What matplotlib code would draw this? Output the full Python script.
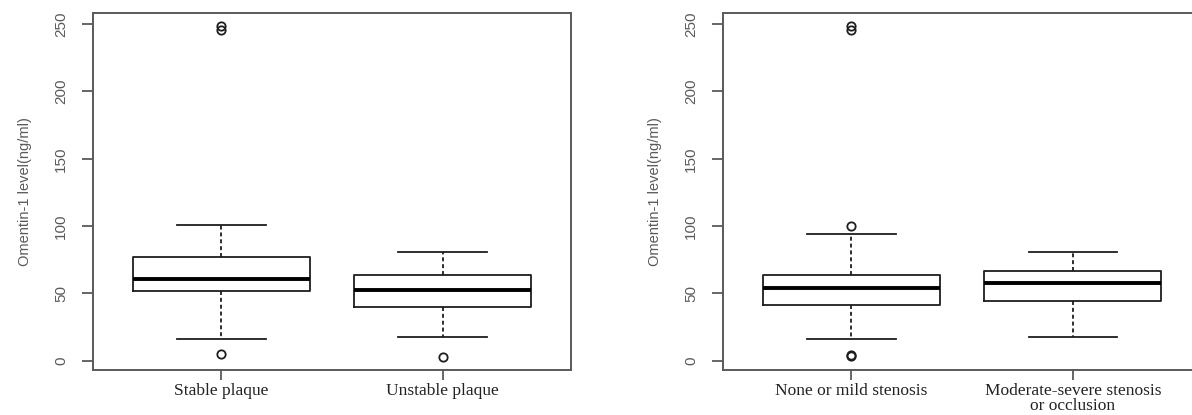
import matplotlib
matplotlib.use("Agg")
import matplotlib.pyplot as plt

# --- data ---
plaque_groups = ["Stable plaque", "Unstable plaque"]
plaque_whislo = [16, 18]
plaque_q1 = [52, 40]
plaque_med = [61, 52.5]
plaque_q3 = [77, 63.5]
plaque_whishi = [101, 80.5]
plaque_fliers = [[5, 245.5, 248.5], [3]]

stenosis_groups = ["None or mild stenosis", "Moderate-severe stenosis\nor occlusion"]
stenosis_whislo = [16.5, 18]
stenosis_q1 = [41.5, 44.5]
stenosis_med = [54, 57.5]
stenosis_q3 = [64, 66.5]
stenosis_whishi = [94.5, 80.5]
stenosis_fliers = [[3.5, 4.5, 100, 245.5, 248.5], []]

y_label = "Omentin-1 level(ng/ml)"
y_ticks = [0, 50, 100, 150, 200, 250]

AXIS_GREY = "#5a5a5a"
BOX_COLOR = "#1e1e1e"


def make_stats(labels, lo, q1, med, q3, hi, fliers):
    stats = []
    for i, lab in enumerate(labels):
        stats.append(dict(label=lab, whislo=lo[i], q1=q1[i], med=med[i],
                          q3=q3[i], whishi=hi[i], fliers=fliers[i]))
    return stats


def draw_panel(ax, stats):
    ax.bxp(stats, positions=[1, 2], widths=0.8, showfliers=True,
           boxprops=dict(color=BOX_COLOR, linewidth=1.3),
           medianprops=dict(color="black", linewidth=2.8, solid_capstyle="butt"),
           whiskerprops=dict(color=BOX_COLOR, linewidth=1.3, linestyle=(0, (2.2, 1.6))),
           capprops=dict(color=BOX_COLOR, linewidth=1.3),
           capwidths=0.4,
           flierprops=dict(marker="o", markerfacecolor="none",
                           markeredgecolor=BOX_COLOR, markersize=6,
                           markeredgewidth=1.3))
    ax.set_xlim(0.42, 2.58)
    ax.set_ylim(-6.8, 258.2)
    ax.set_yticks(y_ticks)
    ax.set_yticklabels([str(t) for t in y_ticks], rotation=90, va="center",
                       fontsize=11, color=AXIS_GREY, family="Liberation Sans")
    ax.set_xticks([1, 2])
    ax.set_xticklabels([s["label"] for s in stats], fontsize=12.5,
                       family="Liberation Serif", color="#222222",
                       linespacing=0.95)
    ax.tick_params(axis="y", length=8, width=1.3, color=AXIS_GREY, pad=10)
    ax.tick_params(axis="x", length=7, width=1.3, color=AXIS_GREY, pad=2)
    ax.set_ylabel(y_label, fontsize=10.5, color=AXIS_GREY,
                  family="Liberation Sans")
    ax.yaxis.set_label_coords(-0.128, 0.5)
    for sp in ax.spines.values():
        sp.set_color(AXIS_GREY)
        sp.set_linewidth(1.4)


fig = plt.figure(figsize=(11.92, 4.15), dpi=100)
ax1 = fig.add_axes([0.0780, 0.1084, 0.4010, 0.8602])
ax2 = fig.add_axes([0.6065, 0.1084, 0.4013, 0.8602])

draw_panel(ax1, make_stats(plaque_groups, plaque_whislo, plaque_q1, plaque_med,
                           plaque_q3, plaque_whishi, plaque_fliers))
draw_panel(ax2, make_stats(stenosis_groups, stenosis_whislo, stenosis_q1, stenosis_med,
                           stenosis_q3, stenosis_whishi, stenosis_fliers))

fig.savefig("out.png", dpi=100)
